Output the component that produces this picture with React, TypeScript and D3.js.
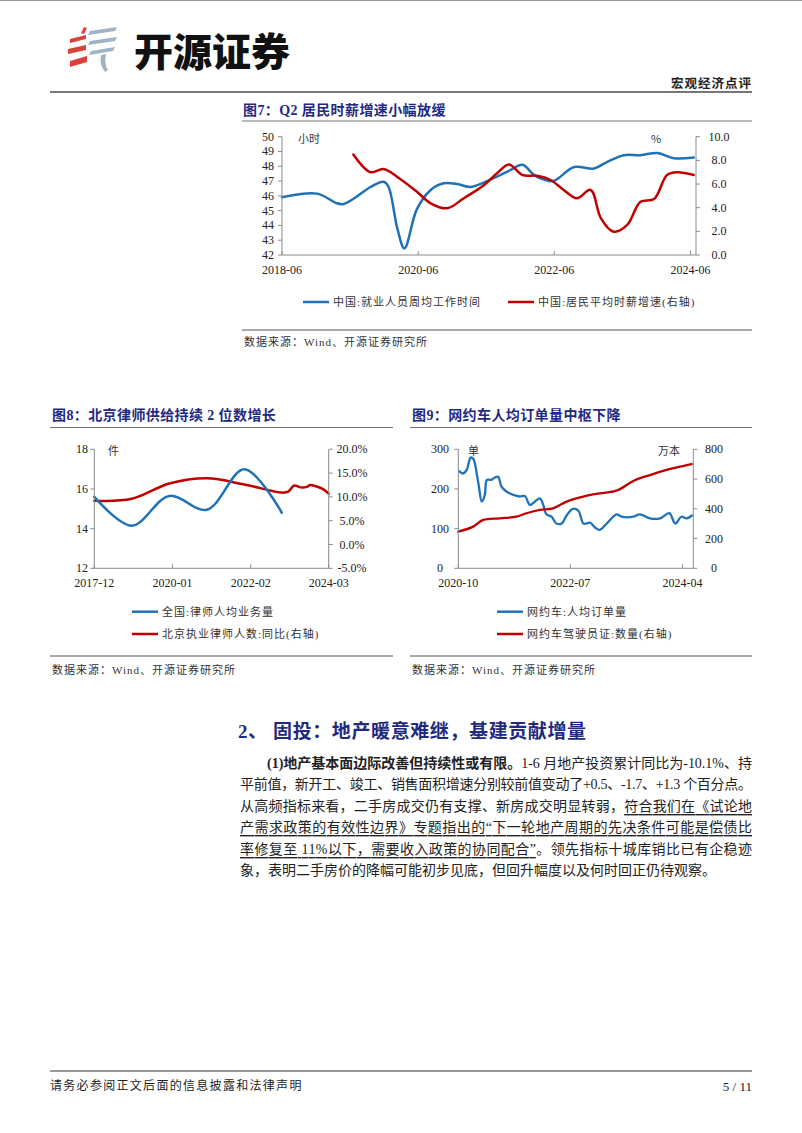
import React from 'react';
import * as d3 from 'd3';

const pd = d3.timeParse('%Y-%m-%d');
const pm = d3.timeParse('%Y-%m');

// ===== 图7 =====
const fig7HoursDates = ['2018-06-01','2018-12-07','2019-03-22','2019-04-28','2019-07-07','2019-09-19','2019-11-28','2019-12-25','2020-02-10','2020-03-19','2020-05-25','2020-08-07','2020-10-16','2020-12-28','2021-03-07','2021-05-19','2021-07-28','2021-10-10','2021-12-13','2022-02-13','2022-04-07','2022-05-28','2022-09-16','2023-01-01','2023-03-13','2023-06-10','2023-09-07','2023-12-07','2024-03-04','2024-06-19'];
const fig7HoursValues = [45.9,46.15,45.5,45.45,45.95,46.6,46.95,46.6,43.8,42.45,45.1,46.4,46.85,46.8,46.6,46.9,47.3,47.75,48.1,47.4,47.1,47.0,47.95,47.85,48.3,48.75,48.75,48.9,48.55,48.6];
const fig7WageDates = ['2019-06-19','2019-09-19','2019-11-28','2020-02-10','2020-05-25','2020-08-07','2020-11-04','2021-02-01','2021-05-19','2021-07-28','2021-10-01','2021-12-13','2022-03-01','2022-05-13','2022-07-22','2022-10-01','2022-12-13','2023-02-07','2023-04-16','2023-06-28','2023-09-07','2023-11-19','2024-01-28','2024-03-22','2024-06-19'];
const fig7WageValues = [8.5,7.0,7.27,6.6,5.35,4.37,3.95,4.8,5.9,6.9,7.66,6.76,6.7,6.34,5.5,4.8,5.5,3.1,1.97,2.54,4.5,4.73,6.76,6.99,6.76];
const fig7XTicks = ['2018-06','2020-06','2022-06','2024-06'];
const fig7LeftTicks = [42,43,44,45,46,47,48,49,50];
const fig7RightTicks = [0,2,4,6,8,10];

// ===== 图8 =====
const fig8LawyerDates = ['2017-12','2018-12','2019-12','2020-12','2021-12','2022-12'];
const fig8LawyerValues = [15.6,14.15,15.65,14.95,17.0,14.8];
const fig8BjDates = ['2017-12','2018-12','2019-12','2020-12','2021-12','2022-12','2023-02','2023-04','2023-06','2023-08','2023-09','2023-11','2024-01','2024-03'];
const fig8BjValues = [9.2,9.6,12.8,13.9,12.6,10.9,11.1,12.4,12.0,12.1,12.5,12.2,11.7,10.7];
const fig8XTicks = ['2017-12','2020-01','2022-02','2024-03'];
const fig8LeftTicks = [12,14,16,18];
const fig8RightTicks = [-5,0,5,10,15,20];

// ===== 图9 =====
const fig9OrderDates = ['2020-10-06','2020-10-28','2020-11-18','2020-12-10','2020-12-25','2021-01-22','2021-02-12','2021-03-01','2021-03-13','2021-04-06','2021-04-28','2021-05-16','2021-06-04','2021-07-04','2021-08-10','2021-09-16','2021-10-16','2021-11-13','2021-12-22','2022-01-10','2022-01-28','2022-02-15','2022-03-16','2022-04-13','2022-05-13','2022-06-10','2022-07-16','2022-08-16','2022-09-13','2022-10-01','2022-10-22','2022-11-19','2022-12-16','2023-01-25','2023-03-22','2023-04-19','2023-06-25','2023-08-01','2023-09-28','2023-11-25','2024-01-16','2024-02-19','2024-03-25','2024-04-25','2024-05-25'];
const fig9OrderValues = [245,239,248,279,276,218,168,185,223,223,229,231,206,193,185,181,182,160,172,176,160,136,130,113,113,133,150,145,113,113,115,103,97,113,136,130,130,136,126,126,139,113,130,126,133];
const fig9LicenseDates = ['2020-10-01','2020-12-25','2021-02-20','2021-05-25','2021-08-28','2021-10-25','2022-01-10','2022-03-25','2022-06-10','2022-09-13','2022-12-16','2023-03-22','2023-06-25','2023-09-28','2024-01-01','2024-03-16','2024-05-22'];
const fig9LicenseValues = [246,280,325,336,347,370,392,403,448,482,504,522,587,627,661,683,701];
const fig9XTicks = ['2020-10','2022-07','2024-04'];
const fig9LeftTicks = [0,100,200,300];
const fig9RightTicks = [0,200,400,600,800];

const BLUE = '#1f72b8';
const RED = '#c00000';
const NAVY = '#1f2a80';
const AXIS = '#8a8a8a';
const LATIN = "'Liberation Serif', 'Times New Roman', 'Noto Sans CJK SC', serif";
const CJK = "'Noto Sans CJK SC', sans-serif";

type Series = { dates: Date[]; values: number[]; axis: 'left' | 'right'; color: string; width: number };

function Chart(p: {
  x0: number; x1: number; yTop: number; yBot: number;
  xDomain: [Date, Date]; xTicks: string[];
  leftDomain: [number, number]; leftTicks: number[]; leftFmt: (v: number) => string; leftLabelX: number;
  rightDomain: [number, number]; rightTicks: number[]; rightFmt: (v: number) => string; rightLabelX: number;
  series: Series[];
  units: { text: string; x: number; anchor: string }[];
}) {
  const x = d3.scaleTime().domain(p.xDomain).range([p.x0, p.x1]);
  const yl = d3.scaleLinear().domain(p.leftDomain).range([p.yBot, p.yTop]);
  const yr = d3.scaleLinear().domain(p.rightDomain).range([p.yBot, p.yTop]);
  return (
    <g>
      {p.series.map((s, i) => {
        const y = s.axis === 'left' ? yl : yr;
        const line = d3.line<number>()
          .x((_, j) => x(s.dates[j]))
          .y((v) => y(v))
          .curve(d3.curveCatmullRom.alpha(0.5));
        return <path key={i} d={line(s.values) || ''} fill="none" stroke={s.color} strokeWidth={s.width} strokeLinejoin="round" strokeLinecap="round" />;
      })}
      <line x1={p.x0} x2={p.x0} y1={p.yTop} y2={p.yBot} stroke={AXIS} strokeWidth={1} />
      <line x1={p.x1} x2={p.x1} y1={p.yTop} y2={p.yBot} stroke={AXIS} strokeWidth={1} />
      <line x1={p.x0} x2={p.x1} y1={p.yBot} y2={p.yBot} stroke={AXIS} strokeWidth={1} />
      {p.leftTicks.map((t) => (
        <g key={'l' + t}>
          <line x1={p.x0 - 4} x2={p.x0} y1={yl(t)} y2={yl(t)} stroke={AXIS} />
          <text x={p.leftLabelX} y={yl(t)} textAnchor="middle" dominantBaseline="central" fontFamily={LATIN} fontSize={12} fill="#222">{p.leftFmt(t)}</text>
        </g>
      ))}
      {p.rightTicks.map((t) => (
        <g key={'r' + t}>
          <line x1={p.x1} x2={p.x1 + 4} y1={yr(t)} y2={yr(t)} stroke={AXIS} />
          <text x={p.rightLabelX} y={yr(t)} textAnchor="middle" dominantBaseline="central" fontFamily={LATIN} fontSize={12} fill="#222">{p.rightFmt(t)}</text>
        </g>
      ))}
      {p.xTicks.map((t) => {
        const xx = x(pm(t) as Date);
        return (
          <g key={'x' + t}>
            <line x1={xx} x2={xx} y1={p.yBot - 4} y2={p.yBot} stroke={AXIS} />
            <text x={xx} y={p.yBot + 15} textAnchor="middle" dominantBaseline="central" fontFamily={LATIN} fontSize={12} fill="#222">{t}</text>
          </g>
        );
      })}
      {p.units.map((u, i) => (
        <text key={'u' + i} x={u.x} y={p.yTop + 1} textAnchor={u.anchor as any} dominantBaseline="central" fontFamily={CJK} fontSize={11} fill="#333">{u.text}</text>
      ))}
    </g>
  );
}

function Legend({ x, y, color, text }: { x: number; y: number; color: string; text: string }) {
  return (
    <g>
      <line x1={x} x2={x + 26} y1={y} y2={y} stroke={color} strokeWidth={2.5} />
      <text x={x + 30} y={y} dominantBaseline="central" fontFamily={LATIN} fontSize={11} letterSpacing={1} fill="#333">{text}</text>
    </g>
  );
}

function Title({ x, y, x0, x1, lineY, text }: { x: number; y: number; x0: number; x1: number; lineY: number; text: string }) {
  return (
    <g>
      <text x={x} y={y} dominantBaseline="central" fontFamily={LATIN} fontWeight="bold" fontSize={14} fill={NAVY} letterSpacing={0.4}>{text}</text>
      <line x1={x0} x2={x1} y1={lineY} y2={lineY} stroke="#777" strokeWidth={1} />
    </g>
  );
}

function Source({ x0, x1, lineY, textY }: { x0: number; x1: number; lineY: number; textY: number }) {
  return (
    <g>
      <line x1={x0} x2={x1} y1={lineY} y2={lineY} stroke="#555" strokeWidth={1} />
      <text x={x0 + 2} y={textY} dominantBaseline="central" fontFamily={LATIN} fontSize={11} letterSpacing={1} fill="#333">数据来源：Wind、开源证券研究所</text>
    </g>
  );
}

function Logo() {
  const red = '#d9413a';
  const gray = '#9db4c2';
  return (
    <g>
      <polygon points="81,33 84,27 87,28 84,34" fill={red} />
      <polygon points="70,43 70,39 86,35 86,39" fill={red} />
      <polygon points="68,54 68,49 86,45 86,50" fill={red} />
      <polygon points="70,67 70,61 87,56 87,62" fill={red} />
      <polygon points="88,35 90,31 117,27 115,31" fill={gray} />
      <polygon points="88,45 90,41 117,37 115,41" fill={gray} />
      <polygon points="89,55 91,51 115,47 113,51" fill={gray} />
      <path d="M101,55 L106,54 Q104,64 108,70 L105,72 Q99,64 101,55 Z" fill={gray} />
    </g>
  );
}

export default function App() {
  const f1 = d3.format('.1f');
  const pct = (v: number) => v.toFixed(1) + '%';
  const int = (v: number) => String(v);
  const P = 'spacing';
  return (
    <svg width={802} height={1133} viewBox="0 0 802 1133" style={{ position: 'absolute', left: 0, top: 0, background: '#fff' }}>
      <rect x={0} y={0} width={802} height={1133} fill="#fff" />
      <line x1={0} x2={802} y1={0.5} y2={0.5} stroke="#999" />
      <Logo />
      <text x={134} y={49} dominantBaseline="central" fontFamily={CJK} fontWeight={900} fontSize={39} fill="#111">开源证券</text>
      <text x={752} y={82} textAnchor="end" dominantBaseline="central" fontFamily={CJK} fontWeight="bold" fontSize={12.5} letterSpacing={1} fill="#222">宏观经济点评</text>
      <line x1={50} x2={752} y1={92} y2={92} stroke="#777" strokeWidth={2} />

      {/* 图7 */}
      <Title x={243} y={110} x0={242} x1={752} lineY={121} text="图7：Q2 居民时薪增速小幅放缓" />
      <Chart
        x0={282} x1={696} yTop={136.7} yBot={255}
        xDomain={[pm('2018-06') as Date, pm('2024-07') as Date]} xTicks={fig7XTicks}
        leftDomain={[42, 50]} leftTicks={fig7LeftTicks} leftFmt={int} leftLabelX={268}
        rightDomain={[0, 10]} rightTicks={fig7RightTicks} rightFmt={(v) => f1(v)} rightLabelX={719}
        series={[
          { dates: fig7HoursDates.map((d) => pd(d) as Date), values: fig7HoursValues, axis: 'left', color: BLUE, width: 2.5 },
          { dates: fig7WageDates.map((d) => pd(d) as Date), values: fig7WageValues, axis: 'right', color: RED, width: 2.5 },
        ]}
        units={[{ text: '小时', x: 298, anchor: 'start' }, { text: '%', x: 651, anchor: 'start' }]}
      />
      <Legend x={303} y={302} color={BLUE} text="中国:就业人员周均工作时间" />
      <Legend x={508} y={302} color={RED} text="中国:居民平均时薪增速(右轴)" />
      <Source x0={242} x1={752} lineY={330} textY={342} />

      {/* 图8 */}
      <Title x={52} y={415} x0={50} x1={393} lineY={427.5} text="图8：北京律师供给持续 2 位数增长" />
      <Chart
        x0={94.3} x1={328.7} yTop={449.3} yBot={568.3}
        xDomain={[pm('2017-12') as Date, pm('2024-03') as Date]} xTicks={fig8XTicks}
        leftDomain={[12, 18]} leftTicks={fig8LeftTicks} leftFmt={int} leftLabelX={82}
        rightDomain={[-5, 20]} rightTicks={fig8RightTicks} rightFmt={pct} rightLabelX={352}
        series={[
          { dates: fig8BjDates.map((d) => pm(d) as Date), values: fig8BjValues, axis: 'right', color: RED, width: 2.5 },
          { dates: fig8LawyerDates.map((d) => pm(d) as Date), values: fig8LawyerValues, axis: 'left', color: BLUE, width: 2.5 },
        ]}
        units={[{ text: '件', x: 108, anchor: 'start' }]}
      />
      <Legend x={132} y={611.7} color={BLUE} text="全国:律师人均业务量" />
      <Legend x={132} y={634} color={RED} text="北京执业律师人数:同比(右轴)" />
      <Source x0={50} x1={393} lineY={656} textY={670} />

      {/* 图9 */}
      <Title x={412} y={415} x0={410} x1={752} lineY={427.5} text="图9：网约车人均订单量中枢下降" />
      <Chart
        x0={458.3} x1={693.3} yTop={449.3} yBot={568.3}
        xDomain={[pm('2020-10') as Date, pm('2024-06') as Date]} xTicks={fig9XTicks}
        leftDomain={[0, 300]} leftTicks={fig9LeftTicks} leftFmt={int} leftLabelX={440}
        rightDomain={[0, 800]} rightTicks={fig9RightTicks} rightFmt={int} rightLabelX={714}
        series={[
          { dates: fig9OrderDates.map((d) => pd(d) as Date), values: fig9OrderValues, axis: 'left', color: BLUE, width: 2.3 },
          { dates: fig9LicenseDates.map((d) => pd(d) as Date), values: fig9LicenseValues, axis: 'right', color: RED, width: 2.3 },
        ]}
        units={[{ text: '单', x: 468, anchor: 'start' }, { text: '万本', x: 680, anchor: 'end' }]}
      />
      <Legend x={497} y={611.7} color={BLUE} text="网约车:人均订单量" />
      <Legend x={497} y={634} color={RED} text="网约车驾驶员证:数量(右轴)" />
      <Source x0={410} x1={752} lineY={656} textY={670} />

      {/* 正文 */}
      <text x={238} y={731.5} dominantBaseline="central" fontFamily={LATIN} fontWeight="bold" fontSize={19} fill={NAVY} letterSpacing={0.6}>2、 固投：地产暖意难继，基建贡献增量</text>
      <g fontFamily={LATIN} fontSize={14} fill="#222">
        <text x={267} y={763} dominantBaseline="central" textLength={485} lengthAdjust={P}>
          <tspan fontWeight="bold">(1)地产基本面边际改善但持续性或有限。</tspan>
          <tspan>1-6 月地产投资累计同比为-10.1%、持</tspan>
        </text>
        <text x={240} y={784.5} dominantBaseline="central" textLength={512} lengthAdjust={P}>平前值，新开工、竣工、销售面积增速分别较前值变动了+0.5、-1.7、+1.3 个百分点。</text>
        <text x={240} y={806} dominantBaseline="central" textLength={512} lengthAdjust={P}>
          <tspan>从高频指标来看，二手房成交仍有支撑、新房成交明显转弱，</tspan>
          <tspan textDecoration="underline" style={{ textDecoration: 'underline' }}>符合我们在《试论地</tspan>
        </text>
        <text x={240} y={827.5} dominantBaseline="central" textLength={512} lengthAdjust={P} style={{ textDecoration: 'underline' }}>产需求政策的有效性边界》专题指出的“下一轮地产周期的先决条件可能是偿债比</text>
        <text x={240} y={849} dominantBaseline="central" textLength={512} lengthAdjust={P}>
          <tspan style={{ textDecoration: 'underline' }}>率修复至 11%以下，需要收入政策的协同配合”</tspan>
          <tspan>。领先指标十城库销比已有企稳迹</tspan>
        </text>
        <text x={240} y={870.5} dominantBaseline="central">象，表明二手房价的降幅可能初步见底，但回升幅度以及何时回正仍待观察。</text>
      </g>

      {/* 页脚 */}
      <line x1={50} x2={752} y1={1071} y2={1071} stroke="#333" strokeWidth={1.2} />
      <text x={50} y={1086} dominantBaseline="central" fontFamily={LATIN} fontSize={12} letterSpacing={1.3} fill="#222">请务必参阅正文后面的信息披露和法律声明</text>
      <text x={752} y={1086} textAnchor="end" dominantBaseline="central" fontFamily={LATIN} fontSize={13} fill="#222">5 / 11</text>
    </svg>
  );
}
